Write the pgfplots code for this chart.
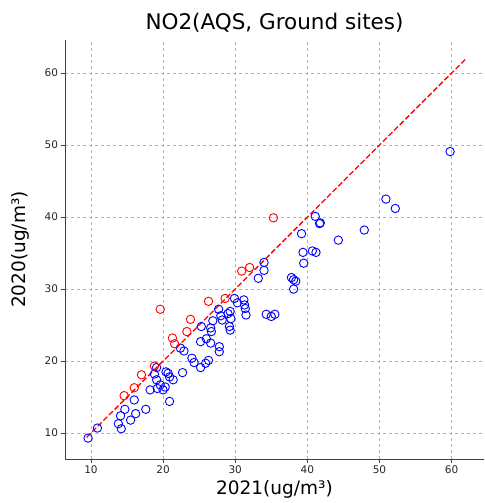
\documentclass[border=0pt]{standalone}
\usepackage{pgfplots}
\pgfplotsset{compat=1.18}
\usepackage{fontspec}
\setmainfont{DejaVu Sans}
\definecolor{mpblue}{RGB}{0,0,255}
\definecolor{mpred}{RGB}{255,0,0}
\definecolor{spine}{RGB}{64,64,64}
\begin{document}
\begin{tikzpicture}
\begin{axis}[
  scale only axis,
  width=419pt, height=419pt,
  xmin=6.4, xmax=64.5, ymin=6.4, ymax=64.6,
  xtick={10,20,30,40,50,60}, ytick={10,20,30,40,50,60},
  grid=major,
  grid style={dashed, color=black!30, line width=0.6pt},
  axis line style={spine, line width=0.8pt},
  axis x line*=bottom, axis y line*=left,
  tick align=outside, tick pos=left,
  major tick length=3.5pt,
  tick style={spine, line width=0.8pt},
  tick label style={font=\fontsize{10.5}{12}\selectfont, text=black!85},
  /pgf/number format/assume math mode=true,
  title={NO2(AQS, Ground sites)},
  title style={font=\fontsize{21.5}{24}\selectfont, yshift=-2pt},
  xlabel={2021(ug/m³)}, ylabel={2020(ug/m³)},
  label style={font=\fontsize{18.5}{21}\selectfont},
  xlabel style={yshift=0.5pt},
  ylabel style={yshift=8pt},
  clip=false,
]
\addplot[mpred, dashed, line width=1.3pt, dash pattern=on 5.5pt off 2.4pt] coordinates {(9.4,9.4) (62,62)};
\addplot[only marks, mark=o, mark size=4.2pt, mpblue, mark options={line width=0.9pt}] coordinates {
(9.6,9.3) (10.9,10.7) (13.8,11.3) (14.2,10.6) (14.1,12.4) (14.7,13.3) (15.5,11.8) (16.0,14.6)
(16.2,12.7) (17.6,13.3) (18.2,16.0) (19.1,19.1) (18.8,18.2) (19.1,17.4) (19.6,16.7) (19.2,16.2)
(20.0,16.0) (20.3,16.4) (20.4,18.5) (20.7,18.3) (20.9,17.8) (21.4,17.4) (22.7,18.4) (20.9,14.4)
(22.4,21.8) (22.9,21.4) (24.0,20.4) (24.3,19.8) (25.2,19.1) (25.9,19.7) (26.3,20.1) (25.2,22.7)
(26.0,23.1) (26.6,22.5) (27.8,22.0) (27.8,21.3) (25.3,24.8) (26.6,24.6) (26.7,24.1) (26.9,25.6)
(27.7,27.2) (28.2,25.7) (28.0,26.3) (29.0,26.6) (29.3,26.9) (29.4,25.9) (29.2,24.8) (29.3,24.3)
(29.9,28.7) (30.3,28.1) (31.2,28.5) (31.3,27.8) (31.4,27.3) (31.5,26.4) (33.2,31.5) (34.0,32.6)
(34.0,33.7) (34.3,26.5) (35.0,26.2) (35.5,26.5) (37.8,31.6) (38.1,31.3) (38.4,31.1) (38.1,30.0)
(39.2,37.7) (39.4,35.1) (39.5,33.6) (40.7,35.3) (41.2,35.1) (41.1,40.1) (41.7,39.1) (41.8,39.2)
(44.3,36.8) (47.9,38.2) (50.9,42.5) (52.2,41.2) (59.8,49.1)
};
\addplot[only marks, mark=o, mark size=4.2pt, mpred, mark options={line width=0.9pt}] coordinates {
(14.6,15.2) (16.0,16.3) (17.0,18.1) (18.8,19.3) (19.6,27.2) (21.3,23.2) (21.6,22.4) (23.3,24.1)
(23.8,25.8) (26.3,28.3) (28.6,28.7) (30.9,32.5) (32.0,33.0) (35.3,39.9)
};
\end{axis}
\pgfresetboundingbox
\path[use as bounding box] ([xshift=-65pt,yshift=-44pt]current axis.south west) rectangle ([yshift=40pt]current axis.north east);
\end{tikzpicture}
\end{document}
